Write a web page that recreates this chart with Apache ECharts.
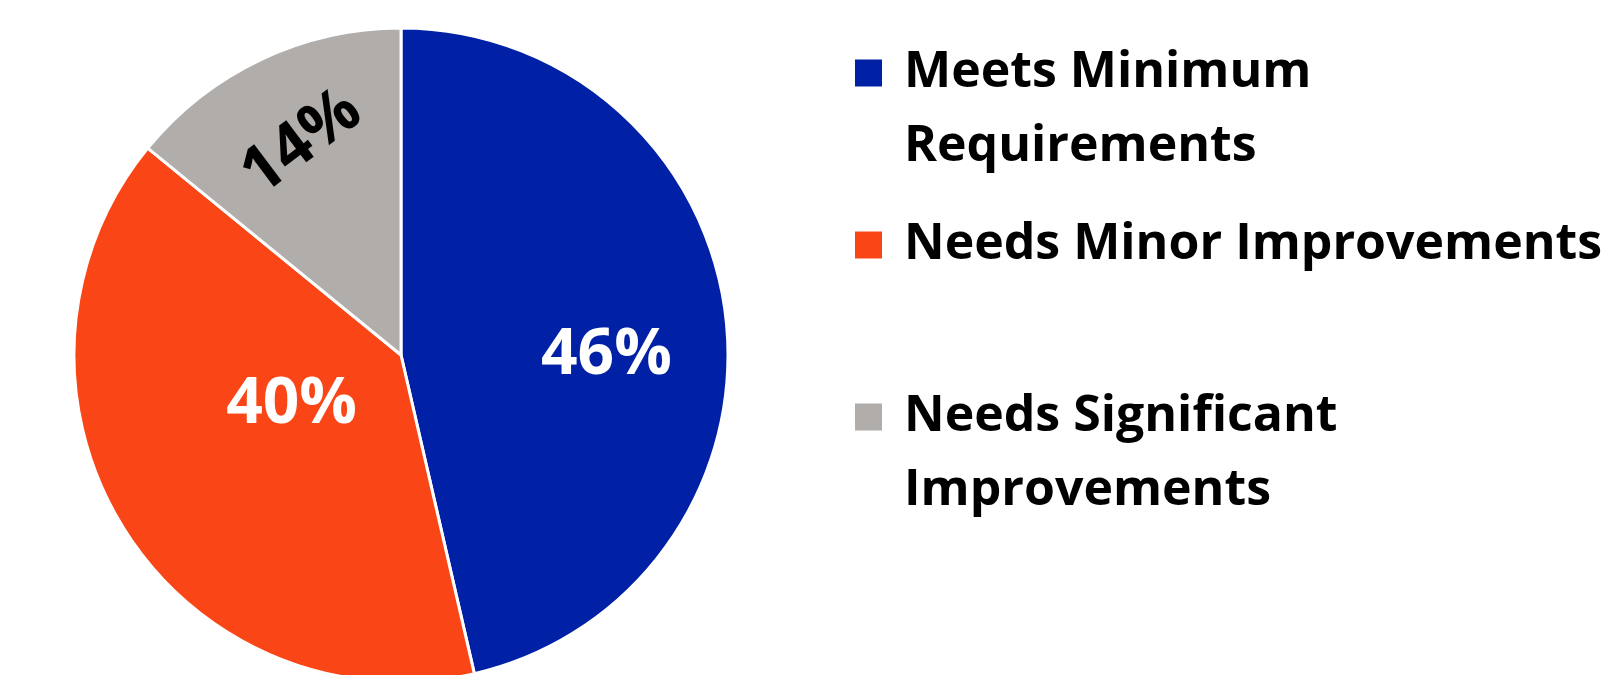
<!DOCTYPE html>
<html>
<head>
<meta charset="utf-8">
<script src="https://cdn.jsdelivr.net/npm/echarts@6/dist/echarts.min.js"></script>
<style>
    html, body { margin: 0; padding: 0; background: #fff; }
    #main { width: 1612px; height: 675px; }
</style>
</head>
<body>
<div id="main"></div>
<script>
'use strict';

// 数据
var categories = ['Meets Minimum\nRequirements', 'Needs Minor Improvements', 'Needs Significant\nImprovements'];
var percents = [46.4, 39.5, 14.1];

// 样式
var colors = ['#0021a5', '#fa4616', '#b0adab'];
var labelColors = ['#ffffff', '#ffffff', '#000000'];
var labelOffsets = [[40, 20], [32, -38], [15, -66]];
var labelRotates = [0, 0, 37];

var myChart = echarts.init(document.getElementById('main'));

var pieData = categories.map(function(name, i) {
    return {
        name: name,
        value: percents[i],
        itemStyle: { color: colors[i] },
        label: {
            color: labelColors[i],
            offset: labelOffsets[i],
            rotate: labelRotates[i]
        }
    };
});

var option = {
    animation: false,
    legend: {
        orient: 'vertical',
        left: 853,
        top: -38,
        padding: 0,
        itemWidth: 29,
        itemHeight: 29,
        itemGap: 24,
        icon: 'rect',
        selectedMode: false,
        // 两行的图例前面加一个空行，让色块对齐第一行
        formatter: function(name) {
            return name.indexOf('\n') >= 0 ? '\n' + name : name;
        },
        textStyle: {
            fontFamily: 'Open Sans',
            fontWeight: 'bold',
            fontSize: 50,
            lineHeight: 74,
            color: '#000',
            padding: [0, 0, 0, 16]
        }
    },
    series: [
        {
            name: '饼图',
            type: 'pie',
            center: [401, 355],
            radius: 327,
            startAngle: 90,
            clockwise: true,
            data: pieData,
            itemStyle: {
                borderColor: '#fff',
                borderWidth: 3
            },
            label: {
                show: true,
                position: 'inside',
                formatter: function(p) {
                    return Math.round(p.value) + '%';
                },
                fontFamily: 'Open Sans',
                fontWeight: 'bold',
                fontSize: 64
            },
            labelLine: { show: false },
            emphasis: { disabled: true }
        }
    ]
};

myChart.setOption(option);
</script>
</body>
</html>
